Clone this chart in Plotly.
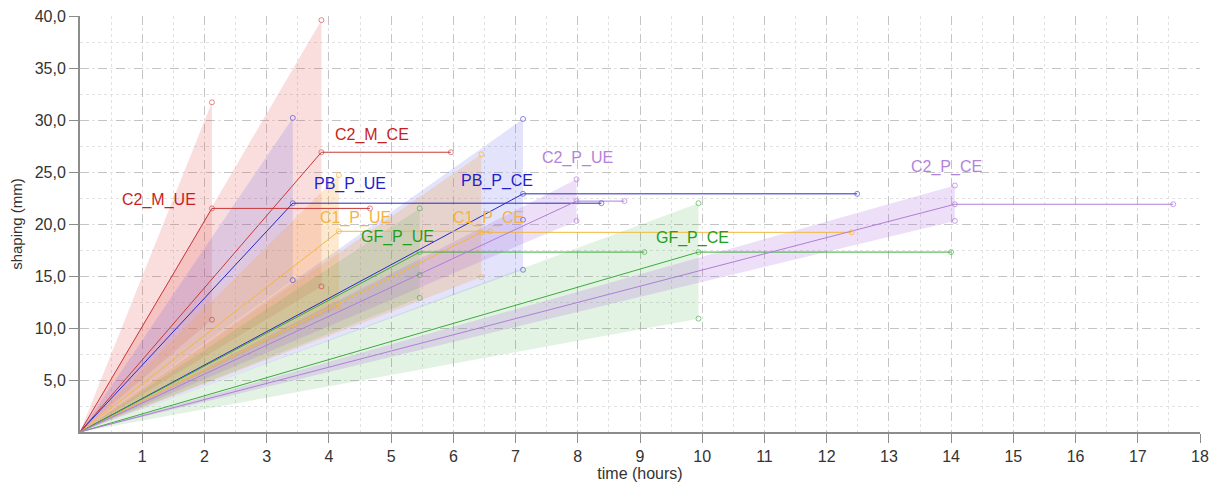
import plotly.graph_objects as go

# ---- data ----
names      = ["C2_M_UE", "C2_M_CE", "PB_P_UE", "PB_P_CE", "C1_P_UE",
              "C1_P_CE", "GF_P_UE", "GF_P_CE", "C2_P_UE", "C2_P_CE"]
time_mean  = [2.12, 3.88, 3.42, 7.12, 4.16, 6.45, 5.46, 9.94, 7.98, 14.06]
shape_mean = [21.5, 26.9, 22.0, 22.9, 19.3, 19.2, 17.3, 17.3, 22.2, 21.9]
shape_up   = [31.7, 39.6, 30.2, 30.1, 24.7, 26.7, 21.5, 22.0, 24.3, 23.7]
shape_lo   = [10.8, 14.0, 14.6, 15.6, 12.0, 14.9, 12.9, 10.9, 20.3, 20.3]
time_end   = [4.66, 5.96, 8.38, 12.49, 6.59, 12.40, 9.07, 14.00, 8.75, 17.57]
shape_extra = [None, None, None, 20.4, None, None, 15.1, None, None, None]
label_t    = [1.27, 4.69, 4.34, 6.70, 4.42, 6.56, 5.10, 9.84, 7.99, 13.92]
label_s    = [22.3, 28.6, 23.8, 24.1, 20.6, 20.6, 18.75, 18.65, 26.3, 25.5]
x_ticks    = list(range(1, 19))
y_ticks    = [5, 10, 15, 20, 25, 30, 35, 40]

# ---- styles per group ----
group_style = {
    "C2_M": dict(line="#C83737", fill="rgba(228,70,70,0.18)", text="#C81E1E", mark="rgba(200,60,60,0.6)"),
    "PB_P": dict(line="#2828C8", fill="rgba(90,90,235,0.17)", text="#1E1ECD", mark="rgba(60,60,210,0.6)"),
    "C1_P": dict(line="#F2B83C", fill="rgba(245,165,60,0.24)", text="#F5B43C", mark="rgba(242,184,60,0.7)"),
    "GF_P": dict(line="#3CAA3C", fill="rgba(60,170,60,0.14)", text="#1EA01E", mark="rgba(60,170,60,0.6)"),
    "C2_P": dict(line="#B07ED8", fill="rgba(170,110,220,0.22)", text="#B482DC", mark="rgba(176,126,216,0.7)"),
}

FONT = "Liberation Sans, Arial, sans-serif"
fig = go.Figure()

# fans
for i, n in enumerate(names):
    st = group_style[n[:4]]
    t = time_mean[i]
    fig.add_trace(go.Scatter(
        x=[0, t, t, 0], y=[0, shape_up[i], shape_lo[i], 0],
        mode="lines", fill="toself", fillcolor=st["fill"],
        line=dict(width=0), hoverinfo="skip", showlegend=False))

# lines
for i, n in enumerate(names):
    st = group_style[n[:4]]
    fig.add_trace(go.Scatter(
        x=[0, time_mean[i], time_end[i]], y=[0, shape_mean[i], shape_mean[i]],
        mode="lines", line=dict(color=st["line"], width=1),
        hoverinfo="skip", showlegend=False))

# markers
for i, n in enumerate(names):
    st = group_style[n[:4]]
    xs = [time_mean[i], time_mean[i], time_mean[i], time_end[i]]
    ys = [shape_up[i], shape_mean[i], shape_lo[i], shape_mean[i]]
    if shape_extra[i] is not None:
        xs.append(time_mean[i]); ys.append(shape_extra[i])
    fig.add_trace(go.Scatter(
        x=xs, y=ys, mode="markers",
        marker=dict(symbol="circle-open", size=5, color=st["mark"], line=dict(width=1)),
        hoverinfo="skip", showlegend=False))

# labels
for i, n in enumerate(names):
    st = group_style[n[:4]]
    fig.add_annotation(x=label_t[i], y=label_s[i], text=n, showarrow=False,
                       xanchor="center", yanchor="middle",
                       font=dict(size=16, color=st["text"], family=FONT))

# the page body has an 8px default margin, so the figure is sized/offset for it
fig.update_layout(
    width=1211, height=478,
    margin=dict(l=72, r=19, t=8, b=54),
    paper_bgcolor="white", plot_bgcolor="white",
    separators=",.",
    font=dict(family=FONT, size=15, color="#333333"),
    showlegend=False,
)
fig.update_xaxes(
    range=[0, 18], tickvals=x_ticks, ticktext=[str(v) for v in x_ticks],
    automargin=False, ticklabeloverflow="allow",
    showline=True, linecolor="#8c8c8c", linewidth=2,
    ticks="outside", ticklen=9, tickcolor="#8c8c8c", tickwidth=1,
    showgrid=True, gridcolor="#c4c4c4", griddash="dash", gridwidth=1,
    minor=dict(dtick=0.5, tick0=0, showgrid=True, gridcolor="#e2e2e2", griddash="dot", gridwidth=1),
    zeroline=False,
    title=dict(text="time (hours)", font=dict(size=16, color="#333333"), standoff=4),
    tickfont=dict(size=16, color="#333333"),
)
fig.update_yaxes(
    range=[0, 40], tickvals=y_ticks, tickformat=".1f",
    automargin=False, ticklabeloverflow="allow",
    showline=True, linecolor="#8c8c8c", linewidth=2,
    ticks="outside", ticklen=9, tickcolor="#8c8c8c", tickwidth=1,
    showgrid=True, gridcolor="#c4c4c4", griddash="dash", gridwidth=1,
    minor=dict(dtick=2.5, tick0=0, showgrid=True, gridcolor="#e2e2e2", griddash="dot", gridwidth=1),
    zeroline=False,
    title=dict(text="shaping (mm)", font=dict(size=15, color="#333333"), standoff=8),
    tickfont=dict(size=16, color="#333333"),
)

fig.write_html("out.html")
